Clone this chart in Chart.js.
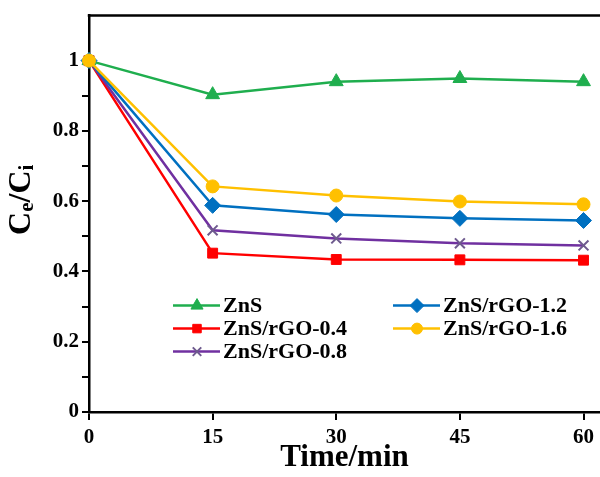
<!DOCTYPE html>
<html>
<head>
<meta charset="utf-8">
<script src="https://cdn.jsdelivr.net/npm/chart.js@4.4.1/dist/chart.umd.min.js"></script>
<style>
  html, body { margin: 0; padding: 0; background: #fff; }
  #wrap { width: 600px; height: 477px; }
</style>
</head>
<body>
<div id="wrap"><canvas id="chart" width="600" height="477"></canvas></div>
<script>
// time points (min)
const times = [0, 15, 30, 45, 60];

// Ce/Ci for each sample
const znS      = [1, 0.903, 0.940, 0.949, 0.940];
const rgo04    = [1, 0.452, 0.434, 0.433, 0.432];
const rgo08    = [1, 0.517, 0.494, 0.480, 0.474];
const rgo12    = [1, 0.588, 0.562, 0.551, 0.545];
const rgo16    = [1, 0.642, 0.616, 0.599, 0.591];

const seriesNames = ['ZnS', 'ZnS/rGO-0.4', 'ZnS/rGO-0.8', 'ZnS/rGO-1.2', 'ZnS/rGO-1.6'];
const xTicks = [0, 15, 30, 45, 60];
const yTicks = [0, 0.2, 0.4, 0.6, 0.8, 1];

const FONT = "'Liberation Serif', 'Times New Roman', serif";

function pts(vals) {
    return times.map((t, i) => ({ x: t, y: vals[i] }));
}

const styles = [
    { color: '#1fae4e', point: 'triangle', r: 8, bw: 1, order: 4 },
    { color: '#ff0000', point: 'rect', r: 7, bw: 1, order: 3 },
    { color: '#7030a0', point: 'crossRot', r: 7, bw: 2, order: 2, pointColor: '#6e5a8e' },
    { color: '#0070c0', point: 'rectRot', r: 8, bw: 1, order: 1 },
    { color: '#ffc000', point: 'circle', r: 6.5, bw: 1, order: 0 }
];

const allValues = [znS, rgo04, rgo08, rgo12, rgo16];

const datasets = allValues.map((vals, i) => {
    const s = styles[i];
    return {
        label: seriesNames[i],
        data: pts(vals),
        borderColor: s.color,
        backgroundColor: s.color,
        borderWidth: 2.5,
        pointStyle: s.point,
        pointRadius: s.r,
        pointBackgroundColor: s.pointColor || s.color,
        pointBorderColor: s.pointColor || s.color,
        pointBorderWidth: s.bw,
        order: s.order,
        clip: false,
        tension: 0
    };
});

// y-axis title with subscripts
const yTitlePlugin = {
    id: 'yTitle',
    afterDraw(chart) {
        const ctx = chart.ctx;
        const parts = [
            { t: 'C', sub: false },
            { t: 'e', sub: true },
            { t: '/C', sub: false },
            { t: 'i', sub: true }
        ];
        const big = 'bold 32px ' + FONT;
        const small = 'bold 21px ' + FONT;
        ctx.save();
        let total = 0;
        parts.forEach(p => {
            ctx.font = p.sub ? small : big;
            p.w = ctx.measureText(p.t).width;
            total += p.w;
        });
        const cy = (chart.chartArea.top + chart.chartArea.bottom) / 2 - 14;
        ctx.translate(22, cy);
        ctx.rotate(-Math.PI / 2);
        ctx.fillStyle = '#000';
        ctx.textBaseline = 'middle';
        let x = -total / 2;
        parts.forEach(p => {
            ctx.font = p.sub ? small : big;
            ctx.fillText(p.t, x, p.sub ? 6 : 0);
            x += p.w;
        });
        ctx.restore();
    }
};

// two-column legend inside the plot
const legendPlugin = {
    id: 'boxLegend',
    afterDraw(chart) {
        const ctx = chart.ctx;
        const a = chart.chartArea;
        const slots = [[0, 0], [0, 1], [0, 2], [1, 0], [1, 1]];
        ctx.save();
        ctx.font = 'bold 22px ' + FONT;
        ctx.textBaseline = 'middle';
        slots.forEach((slot, i) => {
            const s = styles[i];
            const x0 = a.left + 84 + slot[0] * 220;
            const y = a.top + 290 + slot[1] * 23;
            ctx.strokeStyle = s.color;
            ctx.lineWidth = 2.5;
            ctx.beginPath();
            ctx.moveTo(x0, y);
            ctx.lineTo(x0 + 47, y);
            ctx.stroke();
            ctx.fillStyle = s.pointColor || s.color;
            ctx.strokeStyle = s.pointColor || s.color;
            ctx.lineWidth = s.bw;
            Chart.helpers.drawPoint(ctx, { pointStyle: s.point, radius: s.r - 1, borderWidth: s.bw, rotation: 0 }, x0 + 24, y);
            ctx.fillStyle = '#000';
            ctx.fillText(seriesNames[i], x0 + 50, y + 1);
        });
        ctx.restore();
    }
};

// top frame line
const topFramePlugin = {
    id: 'topFrame',
    afterDraw(chart) {
        const a = chart.chartArea;
        const ctx = chart.ctx;
        ctx.save();
        ctx.strokeStyle = '#000';
        ctx.lineWidth = 2.5;
        ctx.beginPath();
        ctx.moveTo(a.left - 1.25, a.top);
        ctx.lineTo(a.right, a.top);
        ctx.stroke();
        ctx.restore();
    }
};

new Chart(document.getElementById('chart'), {
    type: 'line',
    data: { datasets: datasets },
    plugins: [yTitlePlugin, legendPlugin, topFramePlugin],
    options: {
        responsive: false,
        devicePixelRatio: 1,
        animation: false,
        layout: { autoPadding: false, padding: { top: 15, right: 0, left: 0, bottom: 0 } },
        plugins: {
            legend: { display: false },
            tooltip: { enabled: false }
        },
        scales: {
            x: {
                type: 'linear',
                min: 0,
                max: 62,
                afterBuildTicks: (scale) => {
                    scale.ticks = xTicks.map(v => ({ value: v }));
                },
                afterFit: (scale) => {
                    scale.height = 65;
                },
                ticks: {
                    autoSkip: false,
                    maxRotation: 0,
                    padding: 5,
                    color: '#000',
                    font: { family: FONT, size: 21, weight: 'bold' }
                },
                grid: {
                    drawOnChartArea: false,
                    drawTicks: true,
                    tickLength: 8,
                    lineWidth: 2,
                    color: '#000'
                },
                border: { display: true, color: '#000', width: 2.5 },
                title: {
                    display: true,
                    text: 'Time/min',
                    color: '#000',
                    padding: 0,
                    font: { family: FONT, size: 31, weight: 'bold' }
                }
            },
            y: {
                min: 0,
                max: 1.128,
                afterBuildTicks: (scale) => {
                    const t = [];
                    for (let k = 0; k <= 10; k++) t.push({ value: k / 10 });
                    scale.ticks = t;
                },
                afterFit: (scale) => {
                    scale.width = 89;
                },
                ticks: {
                    autoSkip: false,
                    padding: 3,
                    color: '#000',
                    font: { family: FONT, size: 21, weight: 'bold' },
                    callback: (v) => {
                        const k = Math.round(v * 10);
                        if (k % 2 !== 0) return '';
                        const hit = yTicks.find(t => Math.abs(t - v) < 1e-6);
                        return hit === undefined ? '' : (hit === 0 || hit === 1 ? String(hit) : hit.toFixed(1));
                    }
                },
                grid: {
                    drawOnChartArea: false,
                    drawTicks: true,
                    tickLength: 7,
                    lineWidth: 2,
                    color: '#000'
                },
                border: { display: true, color: '#000', width: 2.5 }
            }
        }
    },
});
</script>
</body>
</html>
